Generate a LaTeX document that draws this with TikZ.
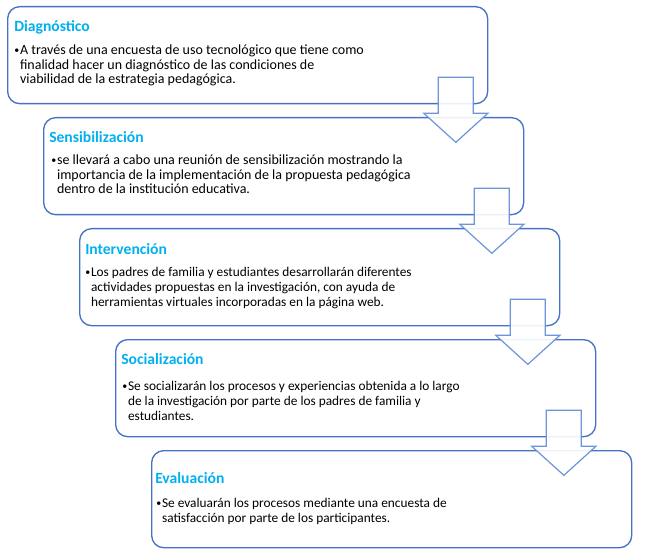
\documentclass[tikz,border=0pt]{standalone}
\usepackage{fontspec}
\setmainfont{Carlito}
\usepackage{tikz}
\usetikzlibrary{positioning}
\definecolor{borde}{HTML}{4472C4}
\definecolor{celeste}{HTML}{00B0F0}
\definecolor{contorno}{HTML}{6E94DA}
\newcommand{\vineta}{\raisebox{0.7pt}{\fontsize{7.5}{8}\selectfont\textbullet}\kern0.6pt}
\newcommand{\sangria}{\hphantom{\vineta}}
\newcommand{\Flecha}[1]{
\draw [contorno,line width=0.9pt,fill=white,fill opacity=0.9,line join=miter]
(#1) ++(-17.5,0) -- ++(35,0) -- ++(0,36) -- ++(14.5,0) -- ++(-32,29)
-- ++(-32,-29) -- ++(14.5,0) -- cycle;
}
\tikzset{
caja/.style={draw=borde,line width=1pt,rounded corners=9pt,fill=white,anchor=north west,
  minimum width=360pt,minimum height=72.75pt,inner sep=0pt},
titulo/.style={anchor=base west,inner sep=0pt,text=celeste,font=\fontsize{11.7}{13}\selectfont\bfseries},
% anchor base = baseline of the last line
cuerpo/.style={anchor=base west,inner sep=0pt,align=left,font=\fontsize{10}{11.1}\selectfont}
}

\begin{document}
\begin{tikzpicture}[x=0.75pt,y=-0.75pt]
\useasboundingbox (0,0) rectangle (649,552);
% cajas
\node [caja] (diag) at (7,6) {};
\node [caja] (sens) at (43,117) {};
\node [caja] (inte) at (79,228) {};
\node [caja] (soci) at (115,339) {};
\node [caja] (eval) at (151,450) {};
% titulos
\node [titulo] (tdiag) at ([shift={(7,26)}]diag.north west) {Diagnóstico};
\node [titulo] (tsens) at ([shift={(6,26)}]sens.north west) {Sensibilización};
\node [titulo] (tinte) at ([shift={(6,26)}]inte.north west) {Intervención};
\node [titulo] (tsoci) at ([shift={(6,25)}]soci.north west) {Socialización};
\node [titulo] (teval) at ([shift={(4,33)}]eval.north west) {Evaluación};
% textos
\node [cuerpo,font=\fontsize{10.5}{11.1}\selectfont] (xdiag) at ([shift={(7,78)}]diag.north west)
{\vineta A través de una encuesta de uso tecnológico que tiene como\\
\sangria finalidad hacer un diagnóstico de las condiciones de\\
\sangria viabilidad de la estrategia pedagógica.};
\node [cuerpo,font=\fontsize{10.5}{11.1}\selectfont] (xsens) at ([shift={(8,77)}]sens.north west)
{\vineta se llevará a cabo una reunión de sensibilización mostrando la\\
\sangria importancia de la implementación de la propuesta pedagógica\\
\sangria dentro de la institución educativa.};
\node [cuerpo] (xinte) at ([shift={(6,78)}]inte.north west)
{\vineta Los padres de familia y estudiantes desarrollarán diferentes\\
\sangria actividades propuestas en la investigación, con ayuda de\\
\sangria herramientas virtuales incorporadas en la página web.};
\node [cuerpo] (xsoci) at ([shift={(7,81)}]soci.north west)
{\vineta Se socializarán los procesos y experiencias obtenida a lo largo\\
\sangria de la investigación por parte de los padres de familia y\\
\sangria estudiantes.};
\node [cuerpo] (xeval) at ([shift={(5,72)}]eval.north west)
{\vineta Se evaluarán los procesos mediante una encuesta de\\
\sangria satisfacción por parte de los participantes.};
% flechas
\Flecha{[shift={(-32.5,-27)}]diag.south east}
\Flecha{[shift={(-32.5,-27)}]sens.south east}
\Flecha{[shift={(-32.5,-27)}]inte.south east}
\Flecha{[shift={(-32.5,-27)}]soci.south east}
\end{tikzpicture}
\end{document}
